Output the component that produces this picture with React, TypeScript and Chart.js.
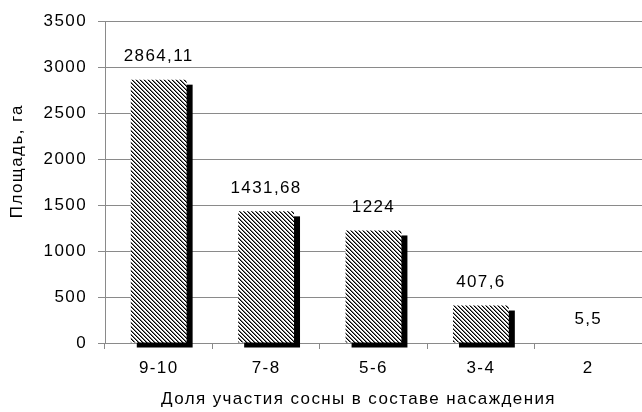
import React, { useEffect, useRef } from "react";
import { Chart, registerables } from "chart.js";

Chart.register(...registerables);

const categories = ["9-10", "7-8", "5-6", "3-4", "2"];
const areaValues = [2864.11, 1431.68, 1224, 407.6, 5.5];
const yMax = 3500;
const yStep = 500;
const yTitle = "Площадь, га";
const xTitle = "Доля участия сосны в составе насаждения";

const FONT = "'Liberation Sans', Arial, sans-serif";
const FONT_SIZE = 17;
const SPACING = "1.4px";
const GRID = "#8a8a8a";

function makeHatch(ctx: CanvasRenderingContext2D): CanvasPattern | string {
  const c = document.createElement("canvas");
  c.width = 4;
  c.height = 4;
  const p = c.getContext("2d");
  if (!p) return "#888";
  p.fillStyle = "#fff";
  p.fillRect(0, 0, 4, 4);
  for (let i = 0; i < 4; i++) {
    p.fillStyle = "#000";
    p.fillRect(i, i, 1, 1);
    p.fillStyle = "#7a7a7a";
    p.fillRect((i + 1) % 4, i, 1, 1);
  }
  return ctx.createPattern(c, "repeat") || "#888";
}

const spacingPlugin = {
  id: "spacing",
  beforeLayout(chart: any) {
    (chart.ctx as any).letterSpacing = SPACING;
  },
  beforeDraw(chart: any) {
    (chart.ctx as any).letterSpacing = SPACING;
  },
};

const shadowPlugin = {
  id: "barShadow",
  beforeDatasetsDraw(chart: any) {
    const ctx = chart.ctx;
    const meta = chart.getDatasetMeta(0);
    ctx.save();
    ctx.fillStyle = "#000";
    meta.data.forEach((bar: any) => {
      const { x, y, base, width } = bar.getProps(["x", "y", "base", "width"], true);
      const h = base - y;
      if (h <= 1) return;
      ctx.fillRect(x - width / 2 + 6, y + 5, width, h);
    });
    ctx.restore();
  },
};

const labelPlugin = {
  id: "valueLabels",
  afterDatasetsDraw(chart: any) {
    const ctx = chart.ctx;
    const meta = chart.getDatasetMeta(0);
    ctx.save();
    (ctx as any).letterSpacing = SPACING;
    ctx.font = `${FONT_SIZE}px ${FONT}`;
    ctx.fillStyle = "#000";
    ctx.textAlign = "center";
    ctx.textBaseline = "middle";
    meta.data.forEach((bar: any, i: number) => {
      const { x, y } = bar.getProps(["x", "y"], true);
      ctx.fillText(String(areaValues[i]).replace(".", ","), x, y - 23);
    });
    ctx.restore();
  },
};

const titlePlugin = {
  id: "axisTitles",
  afterDraw(chart: any) {
    const ctx = chart.ctx;
    const area = chart.chartArea;
    ctx.save();
    (ctx as any).letterSpacing = SPACING;
    ctx.font = `${FONT_SIZE}px ${FONT}`;
    ctx.fillStyle = "#000";
    ctx.textAlign = "center";
    ctx.textBaseline = "middle";
    ctx.fillText(xTitle, (area.left + area.right) / 2 - 15, area.bottom + 56);
    ctx.translate(17, (area.top + area.bottom) / 2 - 21);
    ctx.rotate(-Math.PI / 2);
    ctx.fillText(yTitle, 0, 0);
    ctx.restore();
  },
};

export default function App() {
  const ref = useRef<HTMLCanvasElement | null>(null);

  useEffect(() => {
    const canvas = ref.current;
    if (!canvas) return;
    const ctx = canvas.getContext("2d");
    if (!ctx) return;
    const hatch = makeHatch(ctx);
    const chart = new Chart(ctx, {
      type: "bar",
      data: {
        labels: categories,
        datasets: [
          {
            data: areaValues,
            backgroundColor: hatch as any,
            borderWidth: 0,
            barPercentage: 1,
            categoryPercentage: 0.52,
          },
        ],
      },
      options: {
        responsive: false,
        animation: false,
        devicePixelRatio: 1,
        layout: { padding: { top: 21, right: 0, bottom: 0, left: 0 } },
        plugins: {
          legend: { display: false },
          tooltip: { enabled: false },
        },
        scales: {
          x: {
            type: "category",
            offset: true,
            afterFit: (s: any) => {
              s.height = 69;
            },
            grid: {
              display: true,
              offset: true,
              drawOnChartArea: false,
              drawTicks: true,
              tickLength: 6,
              color: GRID,
            },
            border: { display: true, color: GRID, width: 1 },
            ticks: {
              color: "#000",
              font: { family: FONT, size: FONT_SIZE },
              padding: 9,
              maxRotation: 0,
            },
          },
          y: {
            min: 0,
            max: yMax,
            afterFit: (s: any) => {
              s.width = 105;
            },
            grid: {
              color: GRID,
              drawTicks: true,
              tickLength: 7,
            },
            border: { display: true, color: GRID, width: 1 },
            ticks: {
              stepSize: yStep,
              color: "#000",
              font: { family: FONT, size: FONT_SIZE },
              padding: 11,
              callback: (v: any) => String(v),
            },
          },
        },
      },
      plugins: [spacingPlugin, shadowPlugin, labelPlugin, titlePlugin],
    });
    return () => chart.destroy();
  }, []);

  return (
    <div style={{ position: "absolute", left: 0, top: 0, width: 642, height: 412, background: "#fff" }}>
      <canvas ref={ref} width={642} height={412} style={{ display: "block" }} />
    </div>
  );
}
